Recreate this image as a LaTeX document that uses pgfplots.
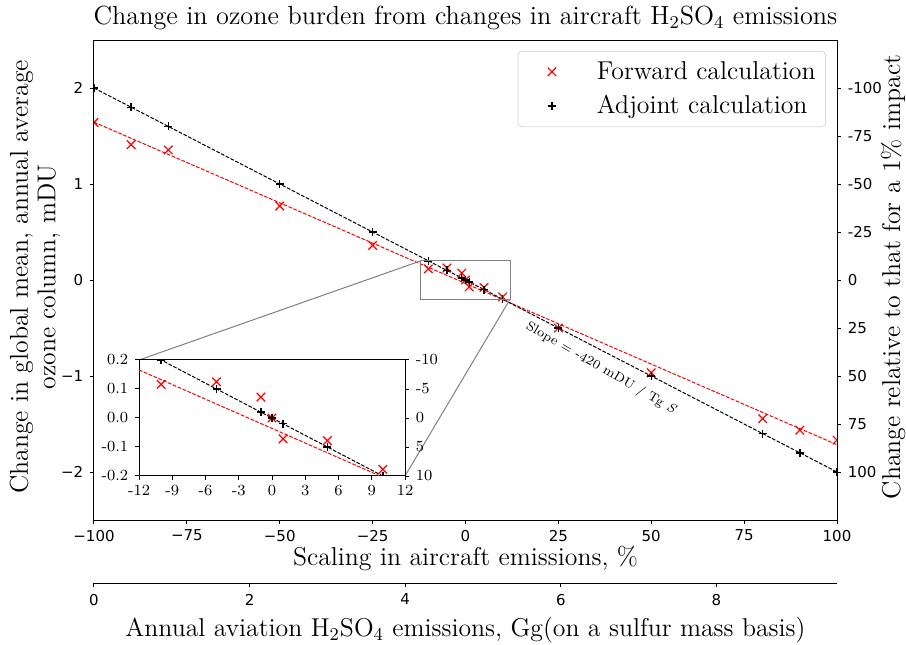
\documentclass[border=0pt]{standalone}
\usepackage{fontspec}
\usepackage{pgfplots}
\pgfplotsset{compat=1.18}
\newfontfamily\dejavu{DejaVu Sans}

% forward calculation (red x)
\pgfplotstableread{
x y
-100 1.64
-90 1.41
-80 1.355
-50 0.77
-25 0.36
-10 0.116
-5 0.125
-1 0.072
0 0.0
1 -0.072
5 -0.078
10 -0.177
25 -0.50
50 -0.967
80 -1.444
90 -1.565
100 -1.668
}\fwd

% adjoint calculation (black +)
\pgfplotstableread{
x y
-100 2.0
-90 1.8
-80 1.6
-50 1.0
-25 0.5
-10 0.2
-5 0.1
-1 0.02
0 0.0
1 -0.02
5 -0.1
10 -0.2
25 -0.5
50 -1.0
80 -1.6
90 -1.8
100 -2.0
}\adj

% fitted lines
\pgfplotstableread{
x y
-100 1.644
100 -1.716
}\fwdfit
\pgfplotstableread{
x y
-100 2
100 -2
}\adjfit

\pgfplotsset{
  base/.style={scale only axis, at={(0,0)}, anchor=south west,
    tick align=outside, major tick length=1.9pt,
    tick style={black, line width=0.5pt},
    axis line style={line width=0.5pt},
    clip marker paths=true},
  fwdmark/.style={only marks, mark=x, red, mark size=3pt, mark options={line width=0.6pt}},
  adjmark/.style={only marks, mark=+, black, mark size=2pt, mark options={line width=0.7pt}},
  fitline/.style={no markers, line width=0.5pt, dash pattern=on 1.85pt off 0.8pt},
  ticksans/.style={tick label style={font=\dejavu\fontsize{7.5}{9}\selectfont}},
  tickserif/.style={tick label style={font=\fontsize{7.75}{9}\selectfont}},
}
\newcommand\lab{\fontsize{12.9}{13.8}\selectfont}

\begin{document}
\begin{tikzpicture}
\useasboundingbox (-47pt,-62pt) rectangle (406pt,260pt);

% main axis
\begin{axis}[base, name=main, width=371.5pt, height=240pt,
  xmin=-100, xmax=100, ymin=-2.5, ymax=2.5,
  xtick={-100,-75,...,100}, xticklabels={−100,−75,−50,−25,0,25,50,75,100},
  ytick={-2,-1,0,1,2}, yticklabels={−2,−1,0,1,2},
  xtick pos=bottom, ytick pos=left, ticksans,
  xticklabel style={yshift=0.5pt},
  legend style={at={(1,1)}, anchor=north east, xshift=-5.5pt, yshift=-5.5pt,
    draw=black!15, rounded corners=2pt, fill=white, font=\lab,
    inner xsep=3pt, inner ysep=3pt, row sep=2.5pt},
  legend cell align=left,
  legend image code/.code={\path[draw=none,fill=none] (-14pt,0pt) rectangle (20.5pt,0pt);
    \draw[#1] plot coordinates {(0pt,0pt)};},
]
\addplot[fitline, red, forget plot] table[x=x,y=y]{\fwdfit};
\addplot[fitline, black, forget plot] table[x=x,y=y]{\adjfit};
\addplot[fwdmark] table[x=x,y=y]{\fwd};
\addplot[adjmark] table[x=x,y=y]{\adj};
\legend{Forward calculation, Adjoint calculation}
\draw[black!50, line width=0.5pt] (axis cs:-12,-0.2) rectangle (axis cs:12,0.2);
\coordinate (r1) at (axis cs:-12,0.2);
\coordinate (r2) at (axis cs:12,-0.2);
\node[rotate=-30, font=\fontsize{6.5}{8}\selectfont] at (axis cs:36.5,-0.92)
  {Slope = -420 mDU / Tg \textit{S}};
\end{axis}

% right axis
\begin{axis}[base, width=371.5pt, height=240pt,
  xmin=-100, xmax=100, ymin=-2.5, ymax=2.5,
  axis x line=none, axis y line*=right,
  ytick={-2,-1.5,-1,-0.5,0,0.5,1,1.5,2},
  yticklabels={100,75,50,25,0,-25,-50,-75,-100}, ticksans]
\end{axis}

% emissions axis
\begin{axis}[base, width=371.5pt, height=10pt, at={(0,-31.5pt)},
  xmin=0, xmax=9.55, ymin=0, ymax=1,
  axis x line*=bottom, axis y line=none,
  xtick={0,2,4,6,8}, xticklabels={0,2,4,6,8}, ticksans]
\end{axis}

% inset
\draw[black!50, line width=0.5pt] (22.5pt,80pt) -- (r1);
\draw[black!50, line width=0.5pt] (155.5pt,22pt) -- (r2);
\begin{axis}[base, name=ins, width=133pt, height=58pt, at={(22.5pt,22pt)},
  xmin=-12, xmax=12, ymin=-0.2, ymax=0.2,
  xtick={-12,-9,...,12}, xticklabels={-12,-9,-6,-3,0,3,6,9,12},
  ytick={-0.2,-0.1,0,0.1,0.2}, yticklabels={-0.2,-0.1,0.0,0.1,0.2},
  xtick pos=bottom, ytick pos=left, tickserif,
  xticklabel style={yshift=1pt},
  axis background/.style={fill=white}]
\addplot[fitline, red] table[x=x,y=y]{\fwdfit};
\addplot[fitline, black] table[x=x,y=y]{\adjfit};
\addplot[fwdmark] table[x=x,y=y]{\fwd};
\addplot[adjmark] table[x=x,y=y]{\adj};
\end{axis}
\begin{axis}[base, width=133pt, height=58pt, at={(22.5pt,22pt)},
  xmin=-12, xmax=12, ymin=-0.2, ymax=0.2,
  axis x line=none, axis y line*=right,
  ytick={-0.2,-0.1,0,0.1,0.2}, yticklabels={10,5,0,-5,-10}, tickserif]
\end{axis}

% titles and labels
\node[font=\fontsize{13.1}{15}\selectfont] at (185.75pt,251pt)
  {Change in ozone burden from changes in aircraft H$_2$SO$_4$ emissions};
\node[font=\lab, rotate=90, align=center] at (-29.5pt,121.5pt)
  {Change in global mean, annual average\\ozone column, mDU};
\node[font=\lab, rotate=90] at (399.5pt,121.5pt)
  {Change relative to that for a 1\% impact};
\node[font=\lab] at (185.75pt,-19pt) {Scaling in aircraft emissions, \%};
\node[font=\lab] at (185.75pt,-55pt)
  {Annual aviation H$_2$SO$_4$ emissions, Gg(on a sulfur mass basis)};
\end{tikzpicture}
\end{document}
